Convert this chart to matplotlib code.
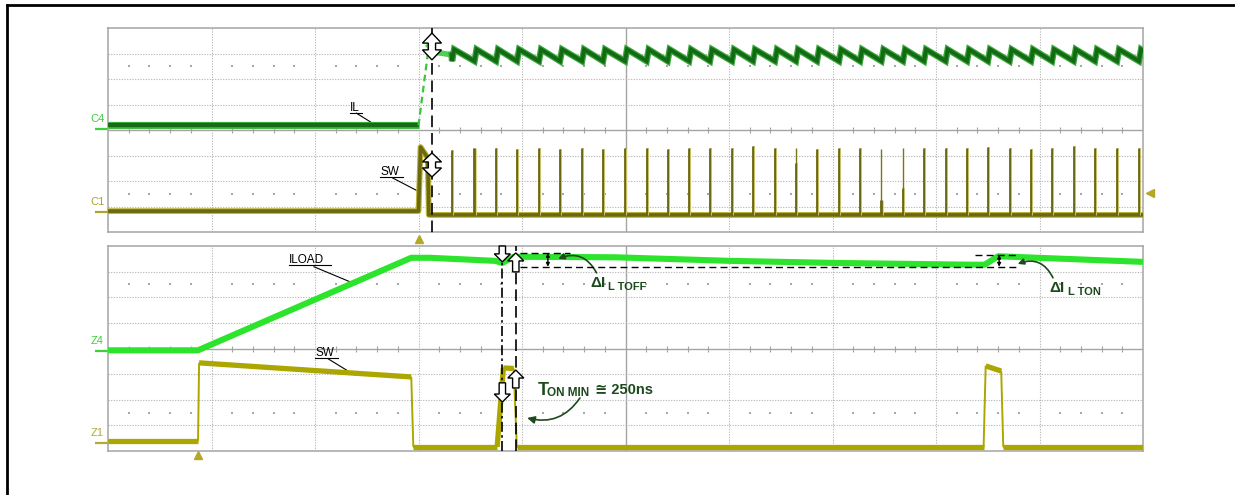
import matplotlib.pyplot as plt
import numpy as np
from matplotlib import transforms
from matplotlib.collections import LineCollection
from matplotlib.lines import Line2D
from matplotlib.patches import Polygon

W, H = 1235, 495

# all values are in scope divisions: 10 across, 8 down per panel

# top panel, C4 = inductor current IL
il_t = [0.0, 3.00]
il_v = [4.18, 4.18]
il_rise_t = [3.00, 3.10]
il_rise_v = [4.18, 7.30]
il_start_t = [3.10, 3.16, 3.32]
il_start_v = [7.30, 7.05, 6.95]
il_peak = 7.16
il_valley = 6.70

# top panel, C1 = switch node, one spike per switching cycle
sw1_t = [0.0, 3.00, 3.02, 3.09, 3.10, 10.0]
sw1_v = [0.82, 0.82, 3.33, 2.90, 0.67, 0.67]
spike_t = [3.324, 3.541, 3.749, 3.952, 4.164, 4.367, 4.580, 4.783, 4.995,
           5.204, 5.407, 5.614, 5.816, 6.029, 6.232, 6.444, 6.647, 6.850,
           7.063, 7.266, 7.473, 7.681, 7.884, 8.093, 8.300, 8.502, 8.711,
           8.918, 9.121, 9.330, 9.536, 9.749, 9.961]
spike_top = [3.20, 3.29, 3.29, 3.27, 3.29, 3.27, 3.29, 3.27, 3.29,
             3.29, 3.27, 3.29, 3.29, 3.29, 3.37, 3.29, 3.29, 3.27,
             3.29, 3.29, 3.27, 3.29, 3.29, 3.29, 3.29, 3.33, 3.29,
             3.27, 3.29, 3.37, 3.29, 3.29, 3.29]
spike_solid = [3.20, 3.29, 3.29, 3.27, 3.29, 3.27, 3.29, 3.27, 3.29,
               3.29, 3.27, 3.29, 3.29, 3.29, 3.37, 3.29, 2.70, 3.27,
               3.29, 3.29, 1.25, 1.73, 3.29, 3.29, 3.29, 3.33, 3.29,
               3.27, 3.29, 3.37, 3.29, 3.29, 3.29]

# bottom panel, Z4 = zoomed load current, Z1 = zoomed switch node
iload_t = [0.0, 0.87, 2.93, 3.11, 3.74, 3.81, 3.92, 4.90, 6.01, 7.01, 8.34, 8.47, 8.60, 10.0]
iload_v = [3.93, 3.93, 7.54, 7.54, 7.42, 7.34, 7.58, 7.56, 7.42, 7.34, 7.27, 7.27, 7.60, 7.38]
sw2_t = [0.0, 0.87, 0.88, 2.93, 2.95, 3.76, 3.82, 3.92, 3.95, 8.46, 8.48, 8.63, 8.65, 10.0]
sw2_v = [0.39, 0.39, 3.44, 2.89, 0.16, 0.16, 3.24, 3.22, 0.16, 0.16, 3.32, 3.12, 0.16, 0.16]

top_cursor = 3.13
bot_cursor_a = 3.81
bot_cursor_b = 3.94
dI_hi_off = 7.73
dI_hi_on = 7.66
dI_lo = 7.19

fig = plt.figure(figsize=(W / 100, H / 100), dpi=100)
fig.patch.set_facecolor('white')


def px_axes(x0, y0, x1, y1):
    return fig.add_axes([x0 / W, 1 - y1 / H, (x1 - x0) / W, (y1 - y0) / H])


def scope_grid(ax):
    ax.set_xlim(0, 10)
    ax.set_ylim(0, 8)
    ax.set_xticks([])
    ax.set_yticks([])
    for s in ax.spines.values():
        s.set_color('#a4a4a4')
        s.set_linewidth(1.1)
    for x in range(1, 10):
        if x == 5:
            ax.axvline(x, color='#a4a4a4', lw=1.0, zorder=0)
        else:
            ax.axvline(x, color='#b0b0b0', lw=0.8, ls=(0, (1, 1.4)), zorder=0)
    for y in range(1, 8):
        if y == 4:
            ax.axhline(y, color='#a4a4a4', lw=1.0, zorder=0)
        else:
            ax.axhline(y, color='#b0b0b0', lw=0.8, ls=(0, (1, 1.4)), zorder=0)
    xs = [i * 0.2 for i in range(1, 50) if i % 5]
    for y in (6.5, 1.5):
        ax.plot(xs, [y] * len(xs), ls='none', marker='s', ms=1.5, mew=0,
                color='#a8a8a8', zorder=0)
    ax.plot(xs, [4] * len(xs), ls='none', marker='|', ms=5, mew=0.8, color='#a4a4a4', zorder=0)


def block_arrow(ax, x, y_tail, y_tip, double=False, hw=8, sw=3.2, h=8):
    ppd = ax.bbox.height / 8.0
    L = abs(y_tip - y_tail) * ppd
    s = 1 if y_tip > y_tail else -1
    if double:
        v = [(0, 0), (hw, h), (sw, h), (sw, L - h), (hw, L - h), (0, L),
             (-hw, L - h), (-sw, L - h), (-sw, h), (-hw, h)]
    else:
        v = [(-sw, 0), (sw, 0), (sw, L - h), (hw, L - h), (0, L), (-hw, L - h), (-sw, L - h)]
    v = np.array([(a, s * b) for a, b in v]) / fig.dpi
    tr = fig.dpi_scale_trans + transforms.ScaledTranslation(x, y_tail, ax.transData)
    ax.add_patch(Polygon(v, closed=True, transform=tr, fc='white', ec='black',
                         lw=1.0, zorder=10, clip_on=False))


def chan_label(ax, level, txt, color):
    tr = transforms.blended_transform_factory(ax.transAxes, ax.transData)
    ax.text(-0.017, level + 0.2, txt, transform=tr, fontsize=8, color=color,
            family='Liberation Sans', ha='left', va='bottom', clip_on=False)
    ax.plot([-0.013, 0.0], [level, level], transform=tr, color=color, lw=1.6,
            clip_on=False, solid_capstyle='butt')


ax_top = px_axes(108, 28, 1143, 232)
ax_bot = px_axes(108, 246, 1143, 451)
scope_grid(ax_top)
scope_grid(ax_bot)

# ---- top panel traces
saw_t = list(il_start_t)
saw_v = list(il_start_v)
for t in spike_t:
    saw_t += [t, t + 0.02]
    saw_v += [il_valley, il_peak]
saw_t.append(10.0)
saw_v.append(il_peak - 0.05)
ax_top.plot(il_t, il_v, color='#45b845', lw=5.2, solid_capstyle='butt', zorder=3)
ax_top.plot(il_t, il_v, color='#166c16', lw=3.2, solid_capstyle='butt', zorder=3)
ax_top.plot(il_rise_t, il_rise_v, color='#3cc43c', lw=1.6, ls=(0, (3, 2)), zorder=3)
ax_top.plot(saw_t[:3], saw_v[:3], color='#4fd04f', lw=4, zorder=3)
ax_top.plot(saw_t[2:], saw_v[2:], color='#3aa83a', lw=4.6, zorder=3, solid_joinstyle='miter')
ax_top.plot(saw_t[2:], saw_v[2:], color='#146a14', lw=2.8, zorder=3, solid_joinstyle='miter')

ax_top.plot(sw1_t, sw1_v, color='#b8b43c', lw=4.2, solid_capstyle='butt', zorder=3)
ax_top.plot(sw1_t, sw1_v, color='#6c6810', lw=2.6, solid_capstyle='butt', zorder=3)
base = sw1_v[-1]
ax_top.vlines(spike_t, base, spike_top, color='#7a7618', lw=1.0, zorder=4)
ax_top.vlines(spike_t, base, spike_solid, color='#6c6810', lw=2.0, zorder=4)
ax_top.vlines([t + 0.013 for t in spike_t], base, spike_solid, color='#d6d27a', lw=0.6, zorder=4)

ax_top.plot([top_cursor, top_cursor], [8, -0.25], color='black', lw=1.2,
            ls=(0, (7, 3.5)), zorder=9, clip_on=False)
block_arrow(ax_top, top_cursor, 6.75, 7.8, double=True, hw=9.5, sw=3.6, h=10)
block_arrow(ax_top, top_cursor, 2.16, 3.1, double=True, hw=9.5, sw=3.6, h=9)

ax_top.plot([3.0], [-0.26], marker='^', ms=6, color='#b4a828', clip_on=False)
ax_top.plot([10.07], [1.53], marker='<', ms=6, color='#b4a828', clip_on=False)

ax_top.text(2.34, 4.75, 'IL', fontsize=8.5, family='Liberation Sans', zorder=8)
ax_top.plot([2.34, 2.45], [4.68, 4.68], color='black', lw=0.8)
ax_top.plot([2.40, 2.63], [4.66, 4.08], color='black', lw=0.8)
ax_top.text(2.63, 2.24, 'SW', fontsize=8.5, family='Liberation Sans', zorder=8)
ax_top.plot([2.63, 2.85], [2.16, 2.16], color='black', lw=0.8)
ax_top.plot([2.75, 3.01], [2.12, 1.57], color='black', lw=0.8)

chan_label(ax_top, il_v[0] - 0.13, 'C4', '#3ccf3c')
chan_label(ax_top, sw1_v[0] - 0.04, 'C1', '#aea42c')

# ---- bottom panel traces
ax_bot.plot(iload_t, iload_v, color='#2de42d', lw=4.4, zorder=3)

pts = np.column_stack([sw2_t, sw2_v])
segs = np.stack([pts[:-1], pts[1:]], axis=1)
flat = np.diff(sw2_t) > 0.05
ax_bot.add_collection(LineCollection(segs, colors='#aba700', linewidths=1.4, zorder=3))
ax_bot.add_collection(LineCollection(segs[flat], colors='#aba700', linewidths=3.8,
                                     capstyle='butt', zorder=3))

ax_bot.plot([bot_cursor_a] * 2, [0, 8], color='black', lw=1.2, ls=(0, (6, 2, 1.5, 2)), zorder=9)
ax_bot.plot([bot_cursor_b] * 2, [0, 8], color='black', lw=1.2, ls=(0, (7, 3)), zorder=9)
block_arrow(ax_bot, bot_cursor_a, 8.0, 7.38)
block_arrow(ax_bot, bot_cursor_b, 6.99, 7.73)
block_arrow(ax_bot, bot_cursor_a, 2.66, 1.91)
block_arrow(ax_bot, bot_cursor_b, 2.46, 3.16)

ax_bot.plot([3.98, 4.46], [dI_hi_off] * 2, color='black', lw=1.0, ls=(0, (5, 3)), zorder=6)
ax_bot.plot([8.38, 8.80], [dI_hi_on] * 2, color='black', lw=1.0, ls=(0, (5, 3)), zorder=6)
ax_bot.plot([3.98, 8.80], [dI_lo] * 2, color='black', lw=1.0, ls=(0, (5, 3)), zorder=6)
for x, hi in ((4.25, dI_hi_off), (8.61, dI_hi_on)):
    ax_bot.annotate('', xy=(x, hi), xytext=(x, dI_lo),
                    arrowprops=dict(arrowstyle='<|-|>', lw=1.0, color='black',
                                    mutation_scale=5, shrinkA=0, shrinkB=0), zorder=7)

ax_bot.plot([0.87], [-0.17], marker='^', ms=6, color='#b4a828', clip_on=False)

ax_bot.text(1.75, 7.34, 'ILOAD', fontsize=8.5, family='Liberation Sans', zorder=8)
ax_bot.plot([1.75, 2.15], [7.27, 7.27], color='black', lw=0.8)
ax_bot.plot([1.99, 2.34], [7.19, 6.60], color='black', lw=0.8)
ax_bot.text(2.00, 3.70, 'SW', fontsize=8.5, family='Liberation Sans', zorder=8)
ax_bot.plot([2.00, 2.22], [3.62, 3.62], color='black', lw=0.8)
ax_bot.plot([2.13, 2.38], [3.59, 2.97], color='black', lw=0.8)

chan_label(ax_bot, iload_v[0] - 0.04, 'Z4', '#3ccf3c')
chan_label(ax_bot, sw2_v[0] - 0.08, 'Z1', '#b0ac30')

# annotations in dark green
ann = '#1c4a1c'
fam = ['Liberation Sans', 'DejaVu Sans']
ax_bot.text(4.66, 6.41, 'ΔI', fontsize=11, fontweight='bold', color=ann, family=fam)
ax_bot.text(4.835, 6.29, 'L TOFF', fontsize=8, fontweight='bold', color=ann, family=fam)
ax_bot.annotate('', xy=(4.35, 7.50), xytext=(4.72, 6.95),
                arrowprops=dict(arrowstyle='-|>', lw=1.2, color=ann, mutation_scale=9,
                                connectionstyle='arc3,rad=0.45', shrinkA=0, shrinkB=0))
ax_bot.text(9.10, 6.21, 'ΔI', fontsize=11, fontweight='bold', color=ann, family=fam)
ax_bot.text(9.275, 6.09, 'L TON', fontsize=8, fontweight='bold', color=ann, family=fam)
ax_bot.annotate('', xy=(8.79, 7.30), xytext=(9.13, 6.76),
                arrowprops=dict(arrowstyle='-|>', lw=1.2, color=ann, mutation_scale=9,
                                connectionstyle='arc3,rad=0.45', shrinkA=0, shrinkB=0))
ax_bot.text(4.15, 2.19, 'T', fontsize=13, fontweight='bold', color=ann, family=fam)
ax_bot.text(4.245, 2.13, 'ON MIN', fontsize=8.5, fontweight='bold', color=ann, family=fam)
ax_bot.text(4.71, 2.24, '≅ 250ns', fontsize=10.5, fontweight='bold', color=ann, family=fam)
ax_bot.annotate('', xy=(4.05, 1.29), xytext=(4.56, 2.07),
                arrowprops=dict(arrowstyle='-|>', lw=1.2, color=ann, mutation_scale=11,
                                connectionstyle='arc3,rad=-0.35', shrinkA=0, shrinkB=0))

# page frame around the figure
fig.add_artist(Line2D([7 / W, 1], [1 - 5 / H, 1 - 5 / H], color='black', lw=2.0))
fig.add_artist(Line2D([7 / W, 7 / W], [1 - 5 / H, 0], color='black', lw=2.0))

fig.savefig('out.png', dpi=100)
